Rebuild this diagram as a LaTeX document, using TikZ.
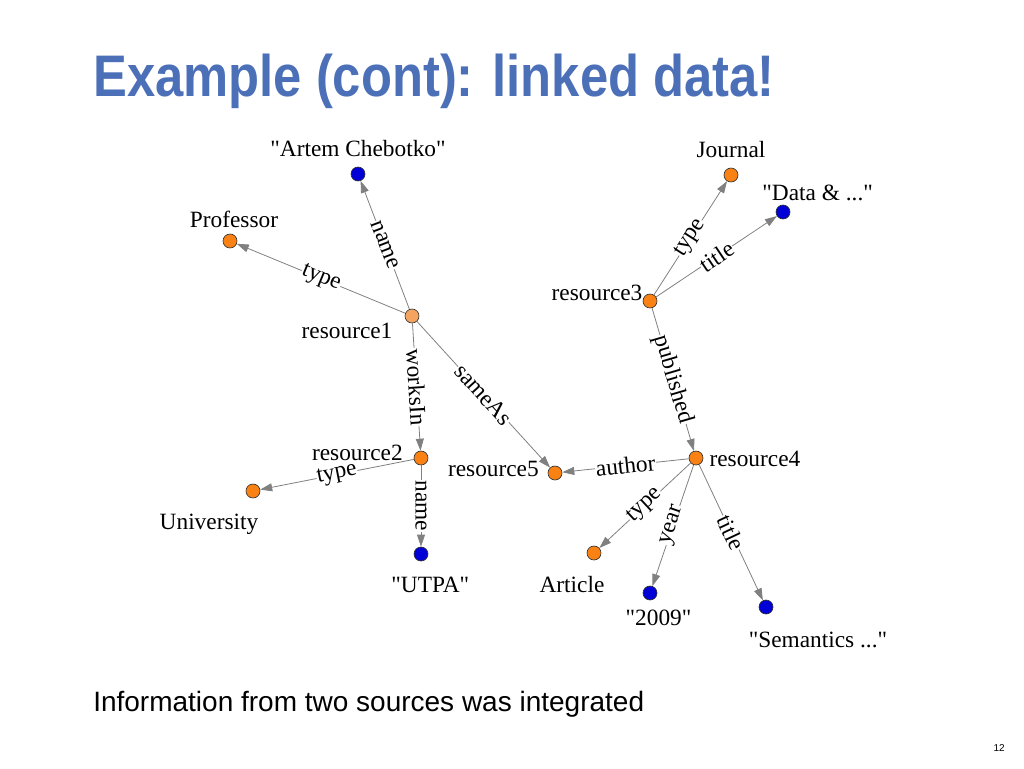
\documentclass[tikz,border=0pt]{standalone}
\usepackage{fontspec}
\setmainfont{Liberation Serif}
\newfontfamily\headfont{Liberation Sans}
\usepackage{tikz}
\usetikzlibrary{arrows.meta,positioning}

\definecolor{uriorange}{RGB}{250,130,20}
\definecolor{rootorange}{RGB}{244,164,96}
\definecolor{litblue}{RGB}{0,0,215}
\definecolor{edgegray}{RGB}{128,128,128}
\definecolor{titleblue}{RGB}{76,112,184}

\newcommand{\lblfont}{\fontsize{17.5}{20}\selectfont}
\newcommand{\dq}{\textquotedbl}

\begin{document}
\begin{tikzpicture}[
  x=0.75pt, y=-0.75pt,
  >={Triangle[length=9pt,width=6pt]},
  uri/.style={circle, draw=black!80, line width=0.5pt, fill=uriorange, minimum size=10.5pt, inner sep=0pt},
  lit/.style={uri, fill=litblue},
  lbl/.style={font=\lblfont, inner sep=1pt},
  rel/.style={->, draw=edgegray, line width=0.6pt},
  pred/.style={sloped, midway, fill=white, inner sep=0.5pt, font=\lblfont}
]
\useasboundingbox (0,0) rectangle (1024,768);

% slide title and caption
\node[anchor=base west, inner sep=0pt, text=titleblue, font=\headfont\bfseries\fontsize{44}{50}\selectfont] (title) at (93,96) {\scalebox{0.865}[1]{Example (cont): linked data!}};
\node[anchor=base west, inner sep=0pt, font=\headfont\fontsize{21}{25}\selectfont] (caption) at (93,711) {Information from two sources was integrated};
\node[anchor=base east, inner sep=0pt, font=\headfont\fontsize{7.5}{9}\selectfont] (pageno) at (1005,751) {12};

% resources
\node[uri, fill=rootorange] (r1) at (412,316) {};
\node[uri] (r2) at (421,458) {};
\node[uri] (r3) at (650,301) {};
\node[uri] (r4) at (696,458) {};
\node[uri] (r5) at (555,473) {};

% classes and literals
\node[lit] (artem) at (358,174) {};
\node[uri] (prof) at (230,241) {};
\node[uri] (univ) at (253,491) {};
\node[lit] (utpa) at (421,554) {};
\node[uri] (journal) at (731,175) {};
\node[lit] (data) at (783,212) {};
\node[uri] (article) at (594,553) {};
\node[lit] (year) at (650,593) {};
\node[lit] (sem) at (766,607) {};

% node names
\node[lbl, left=8pt of r1, yshift=-11.5pt] (r1-t) {resource1};
\node[lbl, left=7pt of r2, yshift=4pt] (r2-t) {resource2};
\node[lbl, left=-1pt of r3, yshift=6pt] (r3-t) {resource3};
\node[lbl, right=3.5pt of r4, yshift=-1pt] (r4-t) {resource4};
\node[lbl, left=5.5pt of r5, yshift=3pt] (r5-t) {resource5};
\node[lbl, above=6pt of artem] (artem-t) {\dq Artem Chebotko\dq};
\node[lbl, above=3pt of prof, xshift=3pt] (prof-t) {Professor};
\node[lbl, below=10.5pt of univ, xshift=-33pt] (univ-t) {University};
\node[lbl, below=10.4pt of utpa, xshift=7pt] (utpa-t) {\dq UTPA\dq};
\node[lbl, above=6pt of journal] (journal-t) {Journal};
\node[lbl, above=2pt of data, xshift=26pt] (data-t) {\dq Data \& ...\dq};
\node[lbl, below=10.6pt of article, xshift=-16.5pt] (article-t) {Article};
\node[lbl, below=6.2pt of year, xshift=6.4pt] (year-t) {\dq 2009\dq};
\node[lbl, below=11.9pt of sem, xshift=39pt] (sem-t) {\dq Semantics ...\dq};

% properties
\draw[rel] (r1) -- node[pred] {name} (artem);
\draw[rel] (r1) -- node[pred] {type} (prof);
\draw[rel] (r1) -- node[pred] {worksIn} (r2);
\draw[rel] (r1) -- node[pred] {sameAs} (r5);
\draw[rel] (r2) -- node[pred] {type} (univ);
\draw[rel] (r2) -- node[pred] {name} (utpa);
\draw[rel] (r3) -- node[pred] {type} (journal);
\draw[rel] (r3) -- node[pred] {title} (data);
\draw[rel] (r3) -- node[pred] {published} (r4);
\draw[rel] (r4) -- node[pred] {author} (r5);
\draw[rel] (r4) -- node[pred] {type} (article);
\draw[rel] (r4) -- node[pred] {year} (year);
\draw[rel] (r4) -- node[pred] {title} (sem);

\end{tikzpicture}
\end{document}
